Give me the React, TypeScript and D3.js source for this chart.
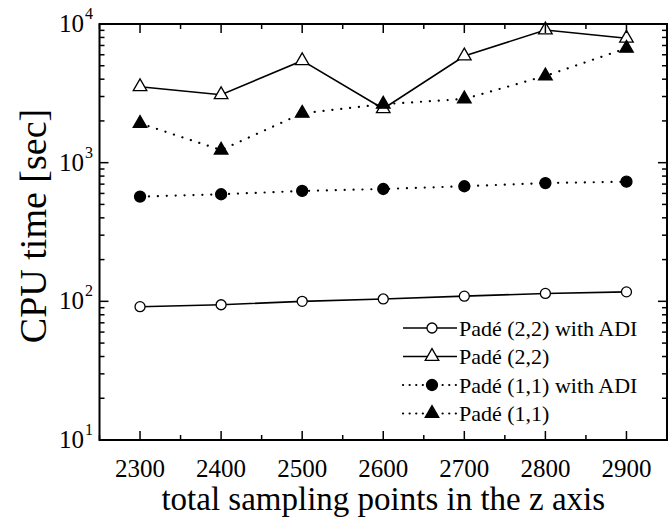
import React from "react";
import * as d3 from "d3";

const xValues = [2300, 2400, 2500, 2600, 2700, 2800, 2900];
const pade22ADI = [91.5, 94.5, 100, 104, 109, 114, 117];
const pade22 = [3530, 3090, 5440, 2450, 5880, 9050, 7890];
const pade11ADI = [569, 592, 625, 646, 676, 713, 729];
const pade11 = [1920, 1233, 2270, 2640, 2880, 4220, 6680];

const xTicks = [2300, 2400, 2500, 2600, 2700, 2800, 2900];
const xMinorTicks = [2250, 2350, 2450, 2550, 2650, 2750, 2850, 2950];
const yDecades = [10, 100, 1000, 10000];
const yExponents = ["1", "2", "3", "4"];

const seriesNames = [
  "Padé (2,2) with ADI",
  "Padé (2,2)",
  "Padé (1,1) with ADI",
  "Padé (1,1)",
];

const W = 672;
const H = 519;
const L = 99.5, R = 667, T = 24, B = 440;
const FONT = "Liberation Serif";

export default function App() {
  const x = d3.scaleLinear().domain([2250, 2950]).range([L, R]);
  const y = d3.scaleLog().domain([10, 10000]).range([B, T]);

  const line = d3
    .line<[number, number]>()
    .x((d) => x(d[0]))
    .y((d) => y(d[1]));

  const series = [
    { name: seriesNames[0], data: pade22ADI, marker: "circle", filled: false, dotted: false },
    { name: seriesNames[1], data: pade22, marker: "triangle", filled: false, dotted: false },
    { name: seriesNames[2], data: pade11ADI, marker: "circle", filled: true, dotted: true },
    { name: seriesNames[3], data: pade11, marker: "triangle", filled: true, dotted: true },
  ];

  const tri = d3.symbol(d3.symbolTriangle, 80)() as string;

  const marker = (s: any, cx: number, cy: number, key: any) =>
    s.marker === "circle" ? (
      <circle
        key={key}
        cx={cx}
        cy={cy}
        r={s.filled ? 5.5 : 5}
        fill={s.filled ? "#000" : "#fff"}
        stroke="#000"
        strokeWidth={1.3}
      />
    ) : (
      <path
        key={key}
        d={tri}
        transform={`translate(${cx},${cy})`}
        fill={s.filled ? "#000" : "#fff"}
        stroke="#000"
        strokeWidth={1.3}
      />
    );

  const minorY: number[] = [];
  for (let d = 10; d < 10000; d *= 10) {
    for (let k = 2; k <= 9; k++) minorY.push(d * k);
  }

  const legendX = 432;
  const legendY0 = 328;
  const legendDy = 28.5;

  return (
    <svg
      width={W}
      height={H}
      style={{ position: "absolute", left: 0, top: 0, background: "#fff" }}
    >
      <rect x={0} y={0} width={W} height={H} fill="#fff" />

      {/* lines */}
      {series.map((s, i) => (
        <path
          key={"l" + i}
          d={line(xValues.map((v, j) => [v, s.data[j]]) as [number, number][]) as string}
          fill="none"
          stroke="#000"
          strokeWidth={s.dotted ? 2.2 : 1.6}
          strokeDasharray={s.dotted ? "0.1 8.8" : undefined}
          strokeLinecap={s.dotted ? "round" : "butt"}
        />
      ))}
      {/* markers */}
      {series.map((s, i) =>
        xValues.map((v, j) => marker(s, x(v), y(s.data[j]), "m" + i + "-" + j))
      )}

      {/* ticks */}
      {xTicks.map((t) => (
        <g key={"xt" + t}>
          <line x1={x(t)} x2={x(t)} y1={B} y2={B - 9} stroke="#000" strokeWidth={1.5} />
          <line x1={x(t)} x2={x(t)} y1={T} y2={T + 9} stroke="#000" strokeWidth={1.5} />
          <text x={x(t)} y={477} textAnchor="middle" fontSize={25} fontFamily={FONT}>
            {t}
          </text>
        </g>
      ))}
      {xMinorTicks.map((t) => (
        <g key={"xm" + t}>
          <line x1={x(t)} x2={x(t)} y1={B} y2={B - 5} stroke="#000" strokeWidth={1.5} />
          <line x1={x(t)} x2={x(t)} y1={T} y2={T + 5} stroke="#000" strokeWidth={1.5} />
        </g>
      ))}
      {yDecades.map((t, i) => (
        <g key={"yt" + t}>
          <line x1={L} x2={L + 9} y1={y(t)} y2={y(t)} stroke="#000" strokeWidth={1.5} />
          <line x1={R} x2={R - 9} y1={y(t)} y2={y(t)} stroke="#000" strokeWidth={1.5} />
          <text x={84} y={y(t) + 8} textAnchor="end" fontSize={25} fontFamily={FONT}>
            10
          </text>
          <text x={85} y={y(t) - 5} textAnchor="start" fontSize={16} fontFamily={FONT}>
            {yExponents[i]}
          </text>
        </g>
      ))}
      {minorY.map((t) => (
        <g key={"ym" + t}>
          <line x1={L} x2={L + 5} y1={y(t)} y2={y(t)} stroke="#000" strokeWidth={1.5} />
          <line x1={R} x2={R - 5} y1={y(t)} y2={y(t)} stroke="#000" strokeWidth={1.5} />
        </g>
      ))}

      {/* frame */}
      <rect x={L} y={T} width={R - L} height={B - T} fill="none" stroke="#000" strokeWidth={2} />

      {/* legend */}
      {series.map((s, i) => {
        const ly = legendY0 + i * legendDy;
        return (
          <g key={"lg" + i}>
            <line
              x1={legendX - 29}
              x2={legendX + 25}
              y1={ly}
              y2={ly}
              stroke="#000"
              strokeWidth={s.dotted ? 2.2 : 1.6}
              strokeDasharray={s.dotted ? "0.1 6.5" : undefined}
              strokeLinecap={s.dotted ? "round" : "butt"}
            />
            {marker(s, legendX, ly, "lm" + i)}
            <text x={459} y={ly + 7.5} fontSize={22} fontFamily={FONT}>
              {s.name}
            </text>
          </g>
        );
      })}

      {/* axis titles */}
      <text x={(L + R) / 2} y={510} textAnchor="middle" fontSize={33} fontFamily={FONT}>
        total sampling points in the z axis
      </text>
      <text
        transform={`translate(46,226) rotate(-90)`}
        textAnchor="middle"
        fontSize={38}
        fontFamily={FONT}
      >
        CPU time [sec]
      </text>
    </svg>
  );
}
